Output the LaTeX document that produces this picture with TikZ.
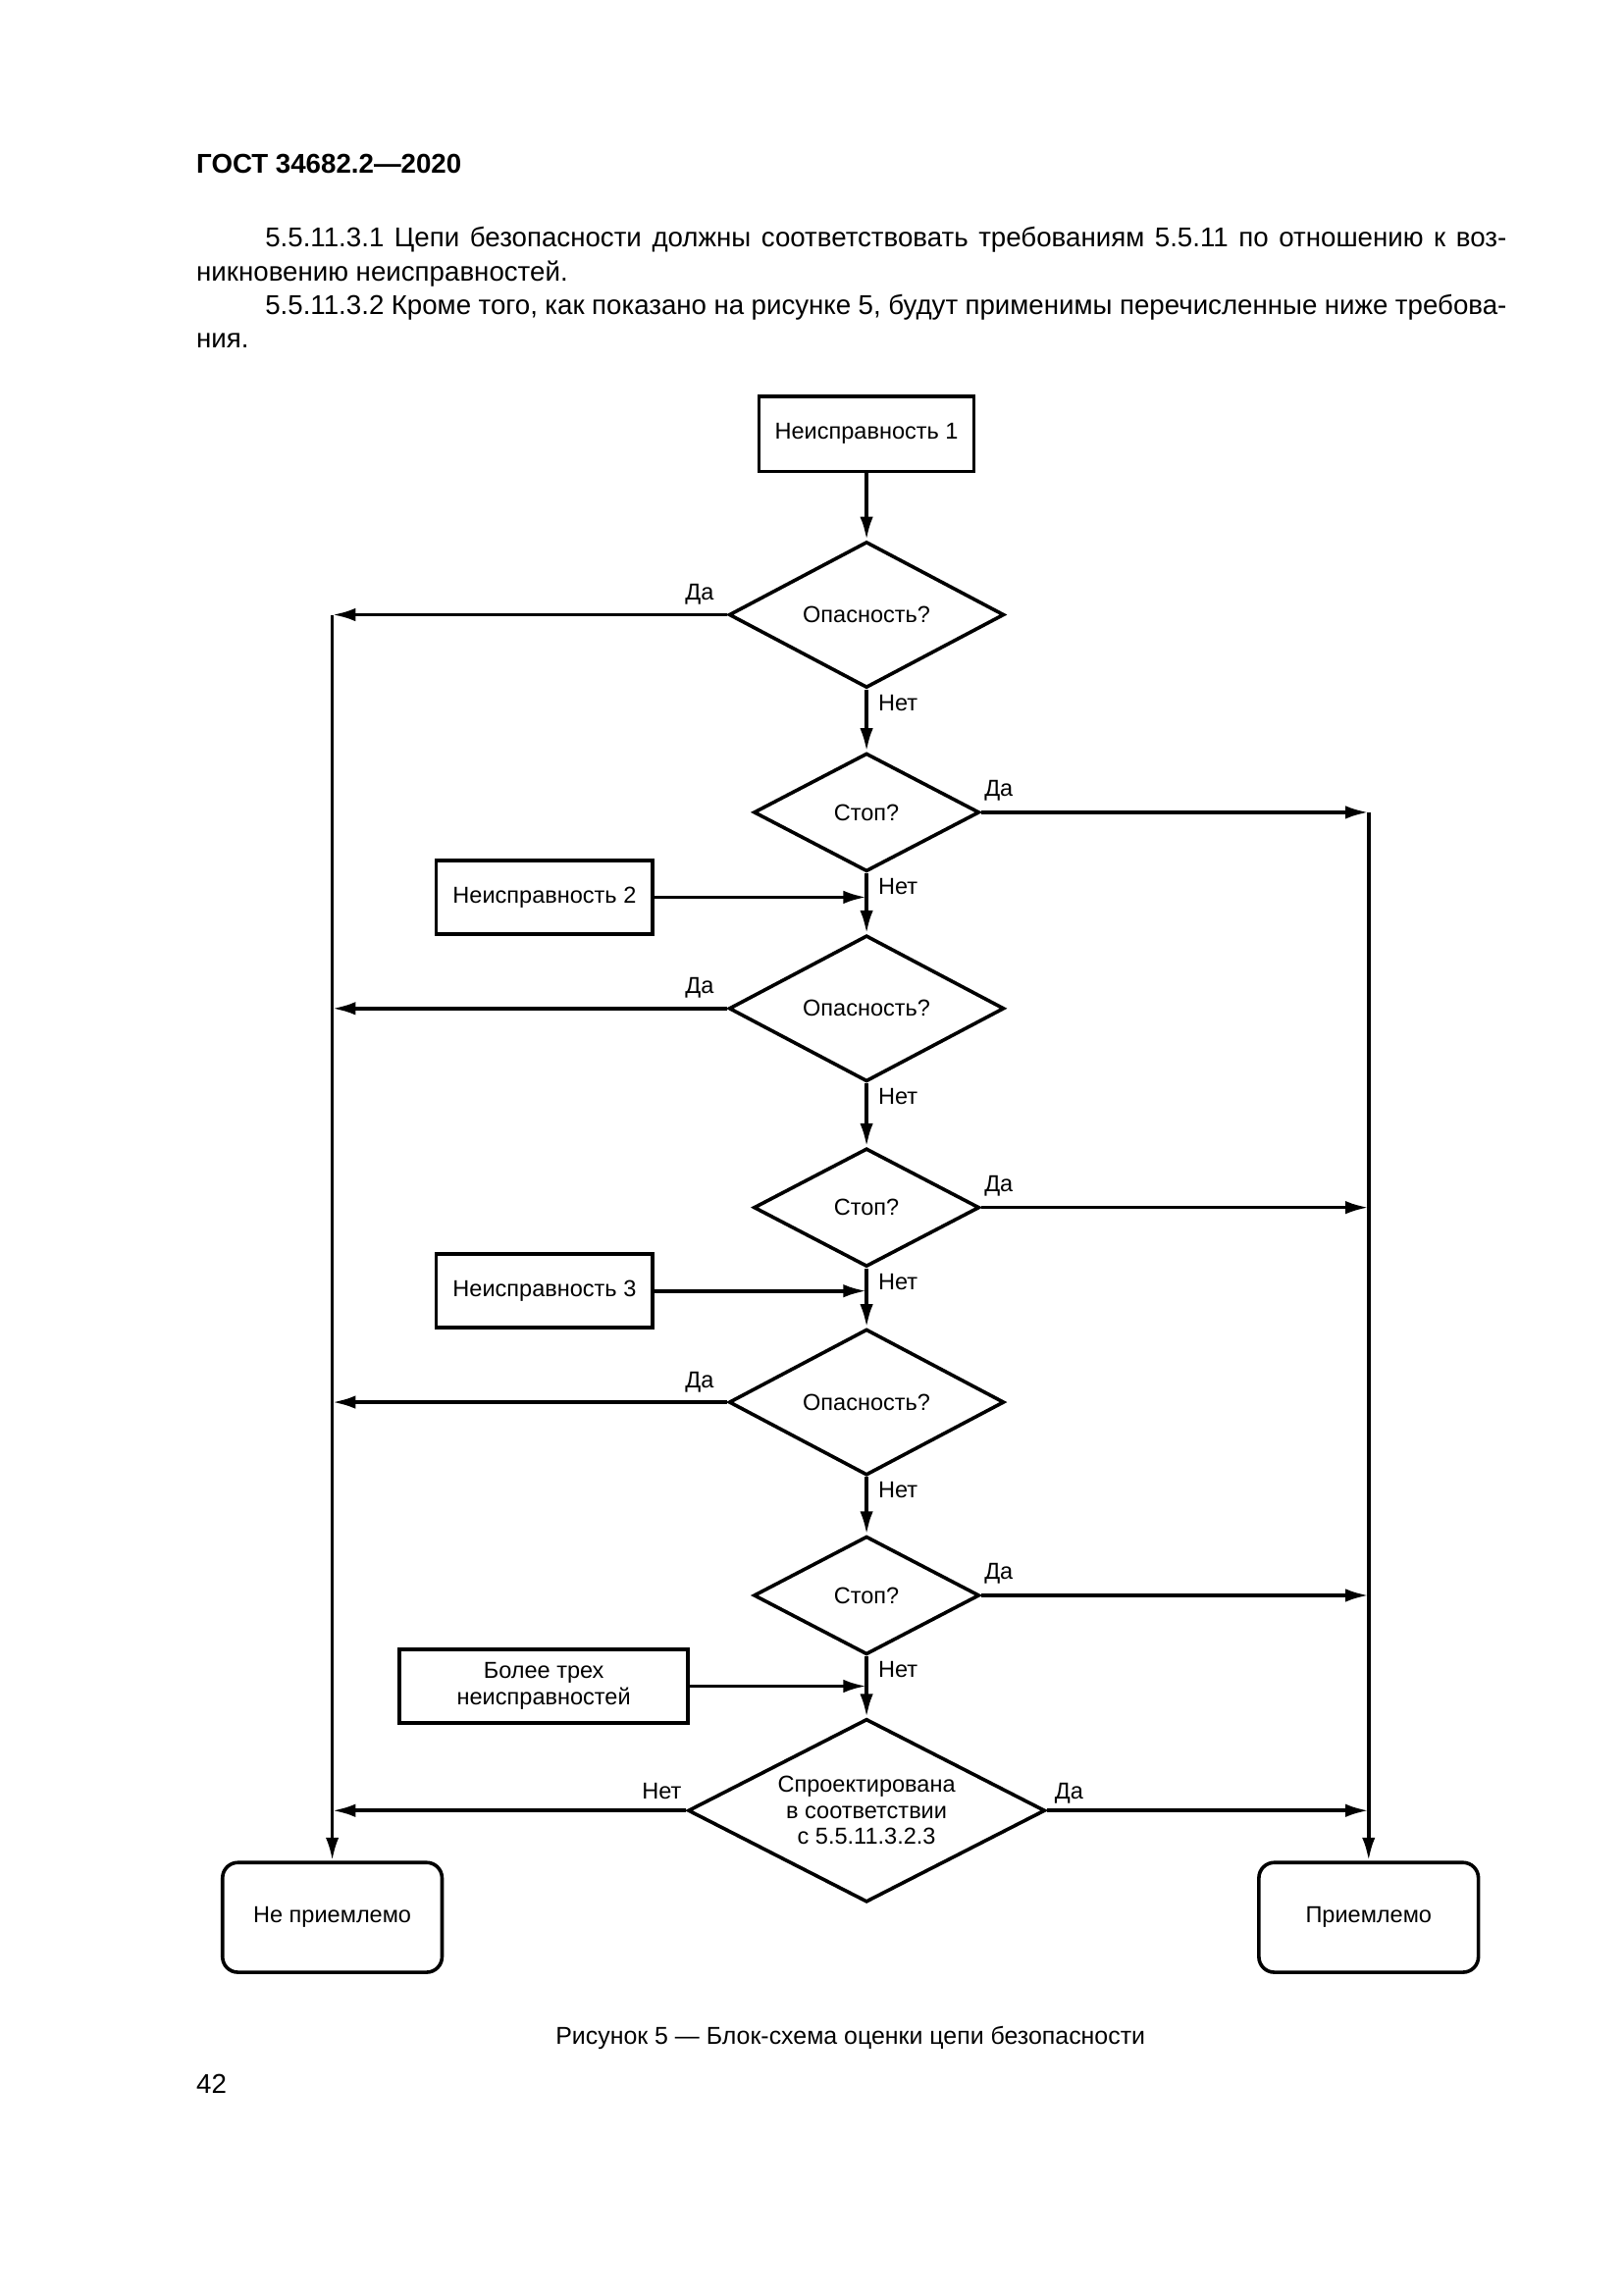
\documentclass[tikz,border=0pt]{standalone}
\usepackage{fontspec}
\setmainfont{Liberation Sans}
\usetikzlibrary{shapes.geometric}
\usetikzlibrary{arrows.meta}

\begin{document}
\begin{tikzpicture}[
        x=0.18937mm, y=-0.18937mm, >={Latex[length=3mm,width=1.7mm]},
        line width=1.3pt, font=\fontsize{8.5}{9.6}\selectfont,
        box/.style={draw, rectangle, inner sep=1pt, align=center},
        ask/.style={draw, diamond, shape aspect=1.9, inner sep=0pt, align=center},
        finish/.style={draw, rectangle, rounded corners=2mm,
                       minimum width=28.4mm, minimum height=14.2mm},
        tagleft/.style={anchor=base east, inner sep=0pt, xshift=-1.5mm, yshift=1.9mm},
        tagright/.style={anchor=base west, inner sep=0pt, xshift=0.2mm, yshift=2.1mm},
        tagdown/.style={anchor=base west, inner sep=0pt, xshift=1.3mm, yshift=-2.7mm},
    ]
    \path[fill=white] (0,0) rectangle (1109,1568);

    \node[anchor=base west, inner sep=0pt, font=\bfseries\fontsize{10}{12}\selectfont]
        (title) at (133,118) {ГОСТ 34682.2—2020};
    \node[anchor=north west, inner sep=0pt, text width=169.5mm, align=justify,
          font=\fontsize{10}{12.35}\selectfont] (intro) at (133,154)
        {\hspace*{8.9mm}5.5.11.3.1 Цепи безопасности должны соответствовать требованиям
         5.5.11 по отношению к воз-\linebreak никновению неисправностей.\par
         \hspace*{8.9mm}5.5.11.3.2 Кроме того, как показано на рисунке 5, будут применимы
         перечисленные ниже требова-\linebreak ния.};

    \node[box, minimum width=27.8mm, minimum height=9.7mm] (f1) at (592,296.5) {Неисправность 1};
    \node[box, minimum width=28mm, minimum height=9.5mm] (f2) at (372,613) {Неисправность 2};
    \node[box, minimum width=28mm, minimum height=9.5mm] (f3) at (372,882) {Неисправность 3};
    \node[box, minimum width=37.3mm, minimum height=9.5mm] (f4) at (371.5,1152)
        {Более трех\\неисправностей};

    \foreach \i/\y in {1/420, 2/689, 3/958}
        \node[ask, minimum width=35.6mm, minimum height=18.9mm] (h\i) at (592,\y) {Опасность?};
    \foreach \i/\y in {1/555, 2/825, 3/1090}
        \node[ask, minimum width=29.2mm, minimum height=15.3mm] (s\i) at (592,\y) {Стоп?};
    \node[ask, shape aspect=1.95, minimum width=46.2mm, minimum height=23.7mm] (d7) at (592,1237)
        {Спроектирована\\в соответствии\\с 5.5.11.3.2.3};

    \node[finish] (bad) at (227,1310) {Не приемлемо};
    \node[finish] (good) at (935,1310) {Приемлемо};

    \draw[->] (f1) -- (h1);
    \foreach \i in {1,2,3}
        \draw[->] (h\i.south) node[tagdown] (noh\i) {Нет} -- (s\i.north);
    \foreach \i/\j in {1/2, 2/3}
        \draw[->] (s\i.south) node[tagdown] (nos\i) {Нет} -- (h\j.north);
    \draw[->] (s3.south) node[tagdown] (nos3) {Нет} -- (d7.north);

    \draw[->] (f2) -- (f2 -| s1.south);
    \draw[->] (f3) -- (f3 -| s2.south);
    \draw[->] (f4) -- (f4 -| s3.south);

    \foreach \i in {1,2,3}
        \draw[->] (h\i.west) node[tagleft] (yesh\i) {Да} -- (h\i.west -| bad.north);
    \foreach \i in {1,2,3}
        \draw[->] (s\i.east) node[tagright] (yess\i) {Да} -- (s\i.east -| good.north);
    \draw[->] (d7.west) node[tagleft, xshift=1.1mm, yshift=-0.4mm] (nod7) {Нет} -- (d7.west -| bad.north);
    \draw[->] (d7.east) node[tagright, xshift=0.6mm, yshift=-0.6mm] (yesd7) {Да} -- (d7.east -| good.north);

    \draw[->] (h1.west -| bad.north) -- (bad.north);
    \draw[->] (s1.east -| good.north) -- (good.north);

    \node[font=\fontsize{9}{11}\selectfont] (caption) at (581,1392)
        {Рисунок 5 — Блок-схема оценки цепи безопасности};
    \node[anchor=base west, inner sep=0pt, font=\fontsize{10}{12}\selectfont] (page) at (133,1430) {42};
\end{tikzpicture}
\end{document}
